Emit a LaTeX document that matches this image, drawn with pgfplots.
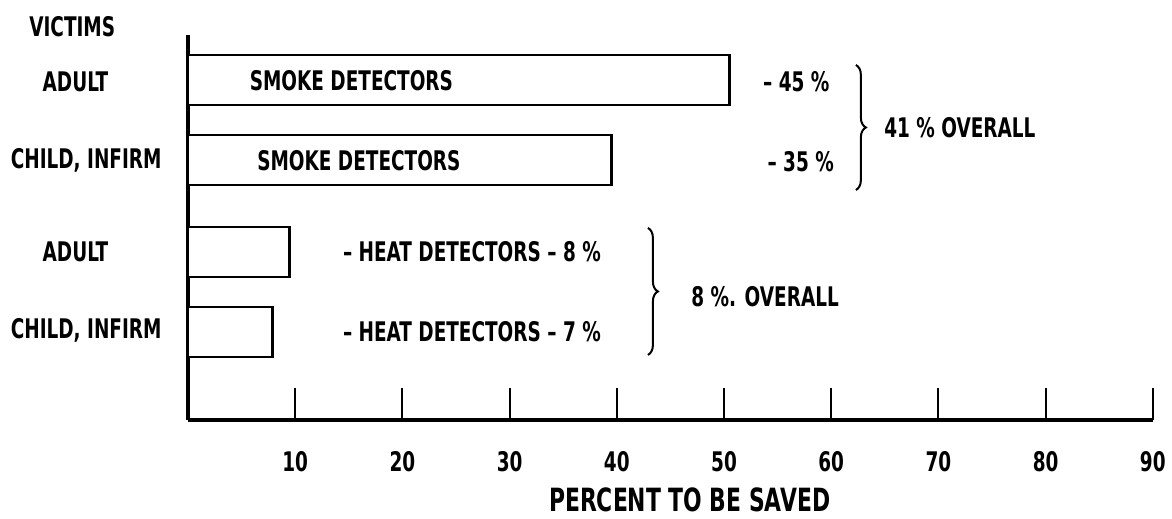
\documentclass[border=0pt]{standalone}
\usepackage{pgfplots}
\pgfplotsset{compat=1.18}
\usepackage{fontspec}
\setmainfont{DejaVu Sans Condensed}[FakeStretch=0.76]
\usetikzlibrary{decorations.pathreplacing}
\newcommand{\lbl}{\fontsize{13.5pt}{15pt}\selectfont\bfseries}
\begin{document}
\begin{tikzpicture}[every node/.style={font=\lbl}]
\begin{axis}[
  scale only axis,
  width=482.5pt, height=192.5pt,
  xmin=0, xmax=90, ymin=0, ymax=385,
  axis x line=bottom, axis y line=left,
  axis line style={-, line width=1.7pt},
  xtick={10,20,...,90},
  ytick=\empty,
  major tick length=16pt,
  tick align=inside,
  tick style={line width=1pt, black},
  xticklabel style={yshift=-12pt},
  /pgf/number format/assume math mode=true,
  ticklabel style={font=\lbl},
  clip=false,
]
\addplot[xbar, bar width=25pt, draw=black, fill=white, line width=1.4pt]
  coordinates {(50.5,340) (39.5,260) (9.5,168) (7.9,88)};

\node at (axis cs:-10.8,393) {VICTIMS};
\node at (axis cs:-10.5,338) {ADULT};
\node at (axis cs:-9.5,260) {CHILD, INFIRM};
\node at (axis cs:-10.5,168) {ADULT};
\node at (axis cs:-9.5,90) {CHILD, INFIRM};

\node[anchor=west] at (axis cs:5.1,339) {SMOKE DETECTORS};
\node[anchor=west] at (axis cs:5.8,259) {SMOKE DETECTORS};
\node[anchor=west] at (axis cs:53.0,338) {– 45 \%};
\node[anchor=west] at (axis cs:53.4,258) {– 35 \%};
\draw[line width=1pt, decorate, decoration={brace, amplitude=5pt}]
  (axis cs:62.3,355) -- (axis cs:62.3,230);
\node[anchor=west] at (axis cs:64.3,292) {41 \% OVERALL};

\node[anchor=west] at (axis cs:13.8,168) {– HEAT DETECTORS – 8 \%};
\node[anchor=west] at (axis cs:13.8,88) {– HEAT DETECTORS – 7 \%};
\draw[line width=1pt, decorate, decoration={brace, amplitude=5pt}]
  (axis cs:42.9,192) -- (axis cs:42.9,65);
\node[anchor=west] at (axis cs:46.3,123) {8 \%. OVERALL};

\node at (axis cs:46.8,-80) {\fontsize{16pt}{18pt}\selectfont\bfseries PERCENT TO BE SAVED};

\coordinate (bl) at (axis cs:-17.54,-99);
\coordinate (tr) at (axis cs:91.79,420);
\end{axis}
\pgfresetboundingbox
\path (bl) rectangle (tr);
\end{tikzpicture}
\end{document}
